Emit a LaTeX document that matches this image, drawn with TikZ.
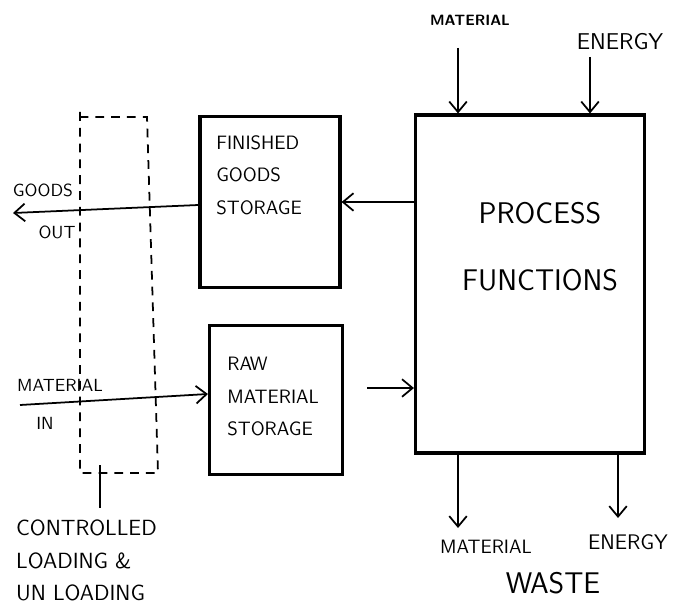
\documentclass[tikz,border=0pt]{standalone}
\usepackage{tikz}
\usetikzlibrary{arrows.meta,positioning,calc}
\tikzset{%
	storebox/.style = {draw, rectangle, line width=1.8pt, inner sep=0pt},
	boxtext/.style  = {align=left, inner sep=0pt, font=\sffamily\fontsize{11}{18.5}\selectfont},
	flowlabel/.style= {inner sep=0pt, font=\sffamily\fontsize{10}{12}\selectfont},
	arrow/.style    = {line width=1pt, -{Straight Barb[length=6pt,width=10pt]}},
	dock/.style     = {line width=1pt, dash pattern=on 5pt off 4pt},
}

\begin{document}
\begin{tikzpicture}[x=0.02cm,y=-0.02cm]
	\useasboundingbox (0,0) rectangle (675,604);
	% boxes
	\node[storebox, minimum width=2.8cm, minimum height=3.42cm] (finished) at (270,202) {};
	\node[storebox, minimum width=2.66cm, minimum height=2.98cm] (raw) at (276,400) {};
	\node[storebox, minimum width=4.58cm, minimum height=6.76cm] (process) at (530,284) {};
	\node[boxtext, anchor=north west] (finishedtext) at (216,135) {FINISHED\\GOODS\\STORAGE};
	\node[boxtext, anchor=north west] (rawtext) at (227,357) {RAW\\MATERIAL\\STORAGE};
	\node[align=center, font=\sffamily\fontsize{17}{38}\selectfont] (proctext) at (540,247) {PROCESS\\FUNCTIONS};
	
	% loading area
	\draw[dock] (80,112) -- (80,473) -- (158,473) -- (147,117) -- (80,117);
	\coordinate (dockfoot) at (100,465);
	\coordinate (docklabel) at (100,508);
	\draw[line width=1pt] (dockfoot) -- (docklabel);
	\node[anchor=north west, align=left, font=\sffamily\fontsize{12.5}{18.5}\selectfont] (controlled) at (10,514) {CONTROLLED\\LOADING \&\\UN LOADING};
	
	% goods out and material in
	\coordinate (goodsout) at (13,213);
	\draw[arrow] ([yshift=-0.06cm]finished.west) -- (goodsout);
	\node[flowlabel] (goodslabel) at (43,190) {GOODS};
	\node[flowlabel] (outlabel) at (57,232) {OUT};
	\coordinate (matin) at (20,405);
	\draw[arrow] (matin) -- ([yshift=0.12cm]raw.west);
	\node[flowlabel] (matinlabel) at (60,385) {MATERIAL};
	\node[flowlabel] (inlabel) at (45,423) {IN};
	
	% between boxes
	\draw[arrow] (process.west |- finished.east) -- (finished.east);
	\coordinate (rawout) at (367,388);
	\draw[arrow] (rawout) -- (rawout -| process.west);
	
	% inputs
	\coordinate (topmat) at (458,48);
	\coordinate (topenergy) at (590,57);
	\draw[arrow] (topmat) -- (topmat |- process.north);
	\draw[arrow] (topenergy) -- (topenergy |- process.north);
	\node[font=\sffamily\bfseries\fontsize{8.5}{10}\selectfont, inner sep=0pt] (topmatlabel) at (470,20) {MATERIAL};
	\node[font=\sffamily\fontsize{13}{15}\selectfont, inner sep=0pt] (topenergylabel) at (620,42) {ENERGY};
	
	% waste
	\coordinate (wastemat) at (458,528);
	\coordinate (wasteenergy) at (618,518);
	\draw[arrow] (wastemat |- process.south) -- (wastemat);
	\draw[arrow] (wasteenergy |- process.south) -- (wasteenergy);
	\node[font=\sffamily\fontsize{11}{13}\selectfont, inner sep=0pt] (wastematlabel) at (486,547) {MATERIAL};
	\node[font=\sffamily\fontsize{12}{14}\selectfont, inner sep=0pt] (wasteenergylabel) at (628,542) {ENERGY};
	\node[font=\sffamily\fontsize{17}{19}\selectfont, inner sep=0pt] (wastelabel) at (553,583) {WASTE};
\end{tikzpicture}
\end{document}
